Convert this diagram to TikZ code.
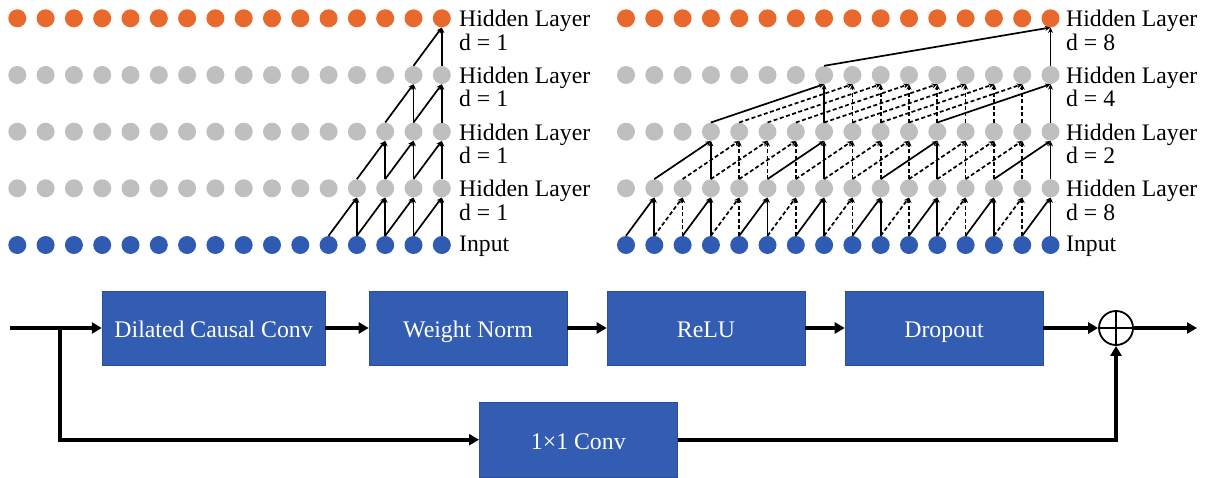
\documentclass[tikz,border=0pt]{standalone}
\usepackage{fontspec}
\setmainfont{Liberation Serif}
\usetikzlibrary{arrows.meta}
\definecolor{orng}{HTML}{E8692B}
\definecolor{gry}{HTML}{BFBFBF}
\definecolor{blu}{HTML}{2F5BB3}
\definecolor{boxblu}{HTML}{325DB2}
\begin{document}
\begin{tikzpicture}[x=1pt,y=-1pt,
  dot/.style={circle,minimum size=18pt,inner sep=0pt,draw=none},
  lbl/.style={anchor=base west,inner sep=0pt,font=\fontsize{23.7}{28}\selectfont},
  link/.style={line width=1.7pt,-{Stealth[length=5.5pt,width=5pt]}},
  dlink/.style={link,dash pattern=on 4pt off 2.5pt},
  blk/.style={fill=boxblu,draw=boxblu!85!black,line width=0.6pt,text=white,
    font=\fontsize{23.8}{28}\selectfont,text height=19pt,text depth=0pt,
    minimum height=74pt,minimum width=198pt,inner sep=0pt},
  flow/.style={line width=3.6pt,-{Triangle[length=10pt,width=11pt]}}
]
\useasboundingbox (0,0) rectangle (1211,477);

% ---- circles ----
\foreach \c in {0,...,15}{
  \pgfmathsetmacro\xl{17.3+28.3*\c}
  \pgfmathsetmacro\xr{626+28.3*\c}
  \foreach \r/\yy/\col in {0/245/blu,1/188.3/gry,2/131.7/gry,3/75/gry,4/18.3/orng}{
    \node[dot,fill=\col] (L\r-\c) at (\xl,\yy) {};
    \node[dot,fill=\col] (R\r-\c) at (\xr,\yy) {};
  }
}

% ---- left connections (d = 1, receptive field of last output) ----
\foreach \r/\s in {1/12,2/13,3/14,4/15}{
  \pgfmathtruncatemacro\p{\r-1}
  \foreach \c in {\s,...,15}{
    \pgfmathtruncatemacro\cm{\c-1}
    \draw[link] (L\p-\cm.north) -- (L\r-\c.south);
    \draw[link] (L\p-\c.north) -- (L\r-\c.south);
  }
}

% ---- right connections (dilated) ----
\foreach \r/\d in {1/1,2/2,3/4,4/8}{
  \pgfmathtruncatemacro\p{\r-1}
  \pgfmathtruncatemacro\st{2*\d-1}
  \foreach \c in {\st,...,15}{
    \pgfmathtruncatemacro\cm{\c-\d}
    \pgfmathtruncatemacro\sol{(mod(\c,2*\d)==(2*\d-1))}
    \ifnum\sol=1 \def\sty{link}\else\def\sty{dlink}\fi
    \draw[\sty] (R\p-\cm.north) -- (R\r-\c.south);
    \draw[\sty] (R\p-\c.north) -- (R\r-\c.south);
  }
}

% ---- labels ----
\node[lbl] (lh4) at (459,26.7) {Hidden Layer};
\node[lbl] (ld4) at (459,50.0) {d = 1};
\node[lbl] (lh3) at (459,83.4) {Hidden Layer};
\node[lbl] (ld3) at (459,106.7) {d = 1};
\node[lbl] (lh2) at (459,140.1) {Hidden Layer};
\node[lbl] (ld2) at (459,163.4) {d = 1};
\node[lbl] (lh1) at (459,196.7) {Hidden Layer};
\node[lbl] (ld1) at (459,220.0) {d = 1};
\node[lbl] (lin) at (459,251.7) {Input};

\node[lbl] (rh4) at (1066,26.7) {Hidden Layer};
\node[lbl] (rd4) at (1066,50.0) {d = 8};
\node[lbl] (rh3) at (1066,83.4) {Hidden Layer};
\node[lbl] (rd3) at (1066,106.7) {d = 4};
\node[lbl] (rh2) at (1066,140.1) {Hidden Layer};
\node[lbl] (rd2) at (1066,163.4) {d = 2};
\node[lbl] (rh1) at (1066,196.7) {Hidden Layer};
\node[lbl] (rd1) at (1066,220.0) {d = 8};
\node[lbl] (rin) at (1066,251.7) {Input};

% ---- block diagram ----
\node[blk,minimum width=223pt] (dcc) at (213.6,328) {Dilated Causal Conv};
\node[blk] (wn) at (468,328) {Weight Norm};
\node[blk] (relu) at (706,328) {ReLU};
\node[blk] (drop) at (944,328) {Dropout};
\node[blk,minimum height=75pt] (conv) at (578.3,439.7) {1×1 Conv};
\node[circle,draw,line width=1.8pt,minimum size=34pt,inner sep=0pt] (sum) at (1116,328) {};
\draw[line width=1.8pt] (sum.north) -- (sum.south) (sum.west) -- (sum.east);

\coordinate (in) at (10,328);
\coordinate (br) at (60,328);
\coordinate (out) at (1197,328);

\draw[flow] (in) -- (dcc.west);
\draw[flow] (dcc.east) -- (wn.west);
\draw[flow] (wn.east) -- (relu.west);
\draw[flow] (relu.east) -- (drop.west);
\draw[flow] (drop.east) -- (sum.west);
\draw[flow] (sum.east) -- (out);
\draw[flow] (br) |- (conv.west);
\draw[flow] (conv.east) -| (sum.south);
\end{tikzpicture}
\end{document}
